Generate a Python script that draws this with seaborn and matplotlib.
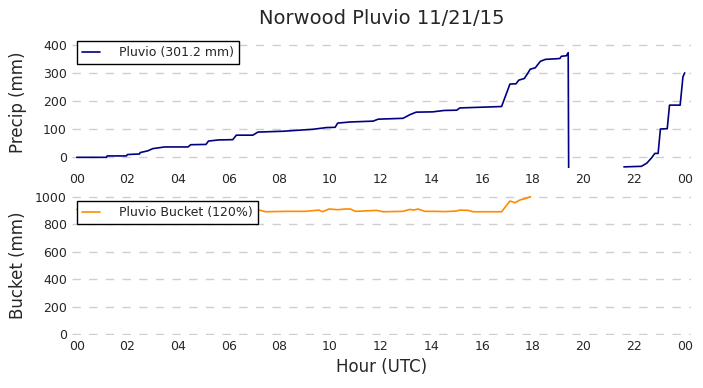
import numpy as np
import pandas as pd
import matplotlib.pyplot as plt
import seaborn as sns

# Pluvio accumulation (mm), hour UTC
pluvio_hour_a = [0.0, 1.17, 1.2, 1.96, 2.0, 2.48, 2.5, 2.8, 3.0, 3.47, 4.39, 4.5, 5.1, 5.2, 5.6,
                 6.16, 6.3, 6.95, 7.15, 8.15, 9.33, 9.85, 10.2, 10.3, 10.8, 11.7, 11.9, 12.88,
                 13.15, 13.4, 14.05, 14.5, 15.0, 15.12, 16.77, 17.1, 17.34, 17.45, 17.67, 17.8,
                 17.9, 18.1, 18.3, 18.5, 19.07, 19.13, 19.33, 19.4, 19.43]
pluvio_mm_a = [0, 0, 5, 5, 10, 12, 17, 23, 31, 37, 37, 45, 46, 58, 62,
               63, 79, 79, 90, 93, 100, 106, 107, 122, 126, 129, 136, 139,
               152, 161, 162, 167, 168, 176, 181, 261, 262, 275, 281, 299,
               314, 319, 342, 349, 352, 360, 362, 373, -300]
pluvio_hour_b = [21.6, 22.29, 22.5, 22.7, 22.82, 22.95, 23.04, 23.31, 23.4, 23.82, 23.93, 24.0]
pluvio_mm_b = [-34, -32, -21, -1, 14, 14, 101, 102, 186, 186, 287, 301]

# Pluvio bucket (mm)
bucket_hour = [0.0, 1.5, 3.0, 4.5, 6.0, 7.09, 7.46, 8.25, 9.03, 9.56, 9.7, 9.96, 10.3, 10.6,
               10.8, 11.0, 11.5, 11.83, 12.1, 12.88, 13.15, 13.3, 13.47, 13.74, 14.2, 14.5,
               14.99, 15.12, 15.45, 15.65, 16.77, 17.1, 17.3, 17.5, 17.7, 17.91]
bucket_mm = [907, 905, 906, 905, 906, 907, 890, 893, 893, 902, 890, 910, 905, 910,
             910, 893, 897, 900, 890, 893, 907, 902, 910, 893, 893, 891,
             895, 902, 900, 890, 890, 968, 956, 976, 985, 1000]

sns.set_style('whitegrid', {'grid.linestyle': (0, (6, 6)), 'grid.color': '#cfcfcf'})
plt.rcParams['font.family'] = ['DejaVu Sans']

fig = plt.figure(figsize=(7.03, 3.88), dpi=100)
ax1 = fig.add_axes([0.102, 0.567, 0.881, 0.340])
ax2 = fig.add_axes([0.102, 0.137, 0.881, 0.358])

sns.lineplot(x=pluvio_hour_a, y=pluvio_mm_a, ax=ax1, color='navy', lw=1.2,
             label='Pluvio (301.2 mm)')
sns.lineplot(x=pluvio_hour_b, y=pluvio_mm_b, ax=ax1, color='navy', lw=1.2)
sns.lineplot(x=bucket_hour, y=bucket_mm, ax=ax2, color='darkorange', lw=1.2,
             label='Pluvio Bucket (120%)')

ticks = list(range(0, 25, 2))
for ax in (ax1, ax2):
    ax.set_xlim(-0.2, 24.25)
    ax.set_xticks(ticks)
    ax.set_xticklabels([f'{h % 24:02d}' for h in ticks], fontsize=9)
    ax.tick_params(axis='both', length=0, labelsize=9)
    ax.grid(axis='x', visible=False)
    ax.grid(axis='y', linewidth=1.0)
    sns.despine(ax=ax, left=True, bottom=True)
    leg = ax.legend(loc='upper left', fontsize=9, fancybox=False, framealpha=1,
                    borderaxespad=0.4, handlelength=1.5, handletextpad=1.5)
    leg.get_frame().set_edgecolor('black')

ax1.set_ylim(-38, 432)
ax1.set_yticks([0, 100, 200, 300, 400])
ax2.set_ylim(-5, 1005)
ax2.set_yticks([0, 200, 400, 600, 800, 1000])

ax1.set_ylabel('Precip (mm)', fontsize=12)
ax2.set_ylabel('Bucket (mm)', fontsize=12)
ax2.set_xlabel('Hour (UTC)', fontsize=12)
ax1.set_title('Norwood Pluvio 11/21/15', fontsize=14, pad=9)
for ax in (ax1, ax2):
    ax.yaxis.set_label_coords(-0.072, 0.5)

fig.savefig('out.png', dpi=100)
